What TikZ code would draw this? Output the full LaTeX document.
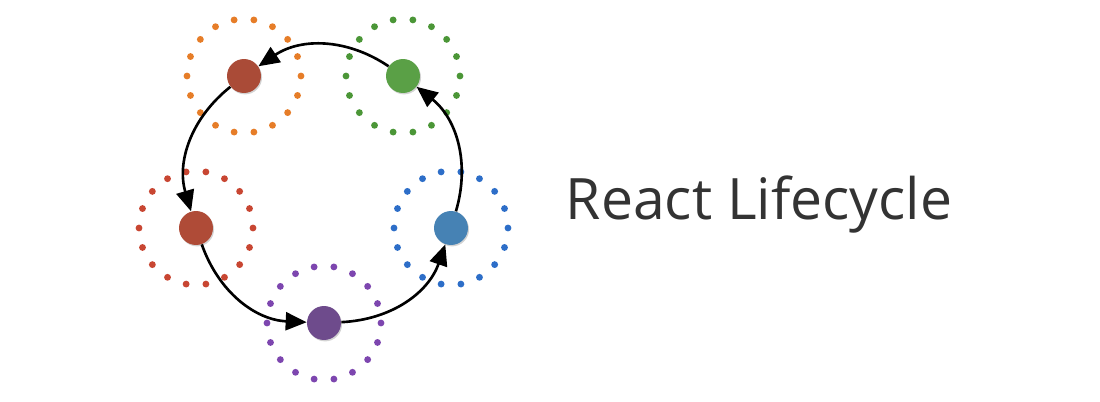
\documentclass[tikz,border=0pt]{standalone}
\usepackage{fontspec}
\setmainfont{Open Sans}
\usetikzlibrary{arrows.meta,shadows}

\definecolor{dotorange}{RGB}{230,125,40}
\definecolor{dotgreen}{RGB}{75,150,55}
\definecolor{dotred}{RGB}{200,70,50}
\definecolor{dotpurple}{RGB}{125,70,175}
\definecolor{dotblue}{RGB}{45,110,200}
\definecolor{fillbrick}{RGB}{170,75,55}
\definecolor{fillgreen}{RGB}{90,160,70}
\definecolor{fillred}{RGB}{175,75,55}
\definecolor{fillpurple}{RGB}{110,75,140}
\definecolor{fillblue}{RGB}{70,130,180}

\begin{document}
\begin{tikzpicture}[
	x=0.02cm, y=-0.02cm,
	phase/.style={
		circle,
		draw=none,
		minimum size=0.68cm,
		inner sep=0pt,
		drop shadow={opacity=0.35, shadow xshift=0.6pt, shadow yshift=-0.8pt}
	},
	ring/.style={
		circle,
		minimum size=2.28cm,
		inner sep=0pt,
		line width=3.9pt,
		line cap=round,
		dash pattern=on 0pt off 11.32pt
	},
	flow/.style={
		line width=1.5pt,
		black,
		-{Triangle[length=0.42cm, width=0.36cm]}
	},
	title/.style={
		text=black!80,
		font=\fontsize{32.5}{38}\selectfont
	},
]
\useasboundingbox (0,0) rectangle (1100,402);

\node[ring, draw=dotorange] (ring1) at (244, 76) {};
\node[ring, draw=dotgreen] (ring2) at (403, 76) {};
\node[ring, draw=dotred] (ring3) at (196, 228) {};
\node[ring, draw=dotpurple] (ring4) at (324, 323) {};
\node[ring, draw=dotblue] (ring5) at (451, 228) {};

\node[phase, fill=fillbrick] (phase1) at (244, 76) {};
\node[phase, fill=fillgreen] (phase2) at (403, 76) {};
\node[phase, fill=fillred] (phase3) at (196, 228) {};
\node[phase, fill=fillpurple] (phase4) at (324, 323) {};
\node[phase, fill=fillblue] (phase5) at (451, 228) {};

\draw[flow] (phase2) to[bend right=34] (phase1);
\draw[flow] (phase1) to[bend right=34] (phase3);
\draw[flow] (phase3) to[bend right=34] (phase4);
\draw[flow] (phase4) to[bend right=34] (phase5);
\draw[flow] (phase5) to[bend right=34] (phase2);

\node[title] (title) at (759, 205) {React Lifecycle};

\end{tikzpicture}
\end{document}
